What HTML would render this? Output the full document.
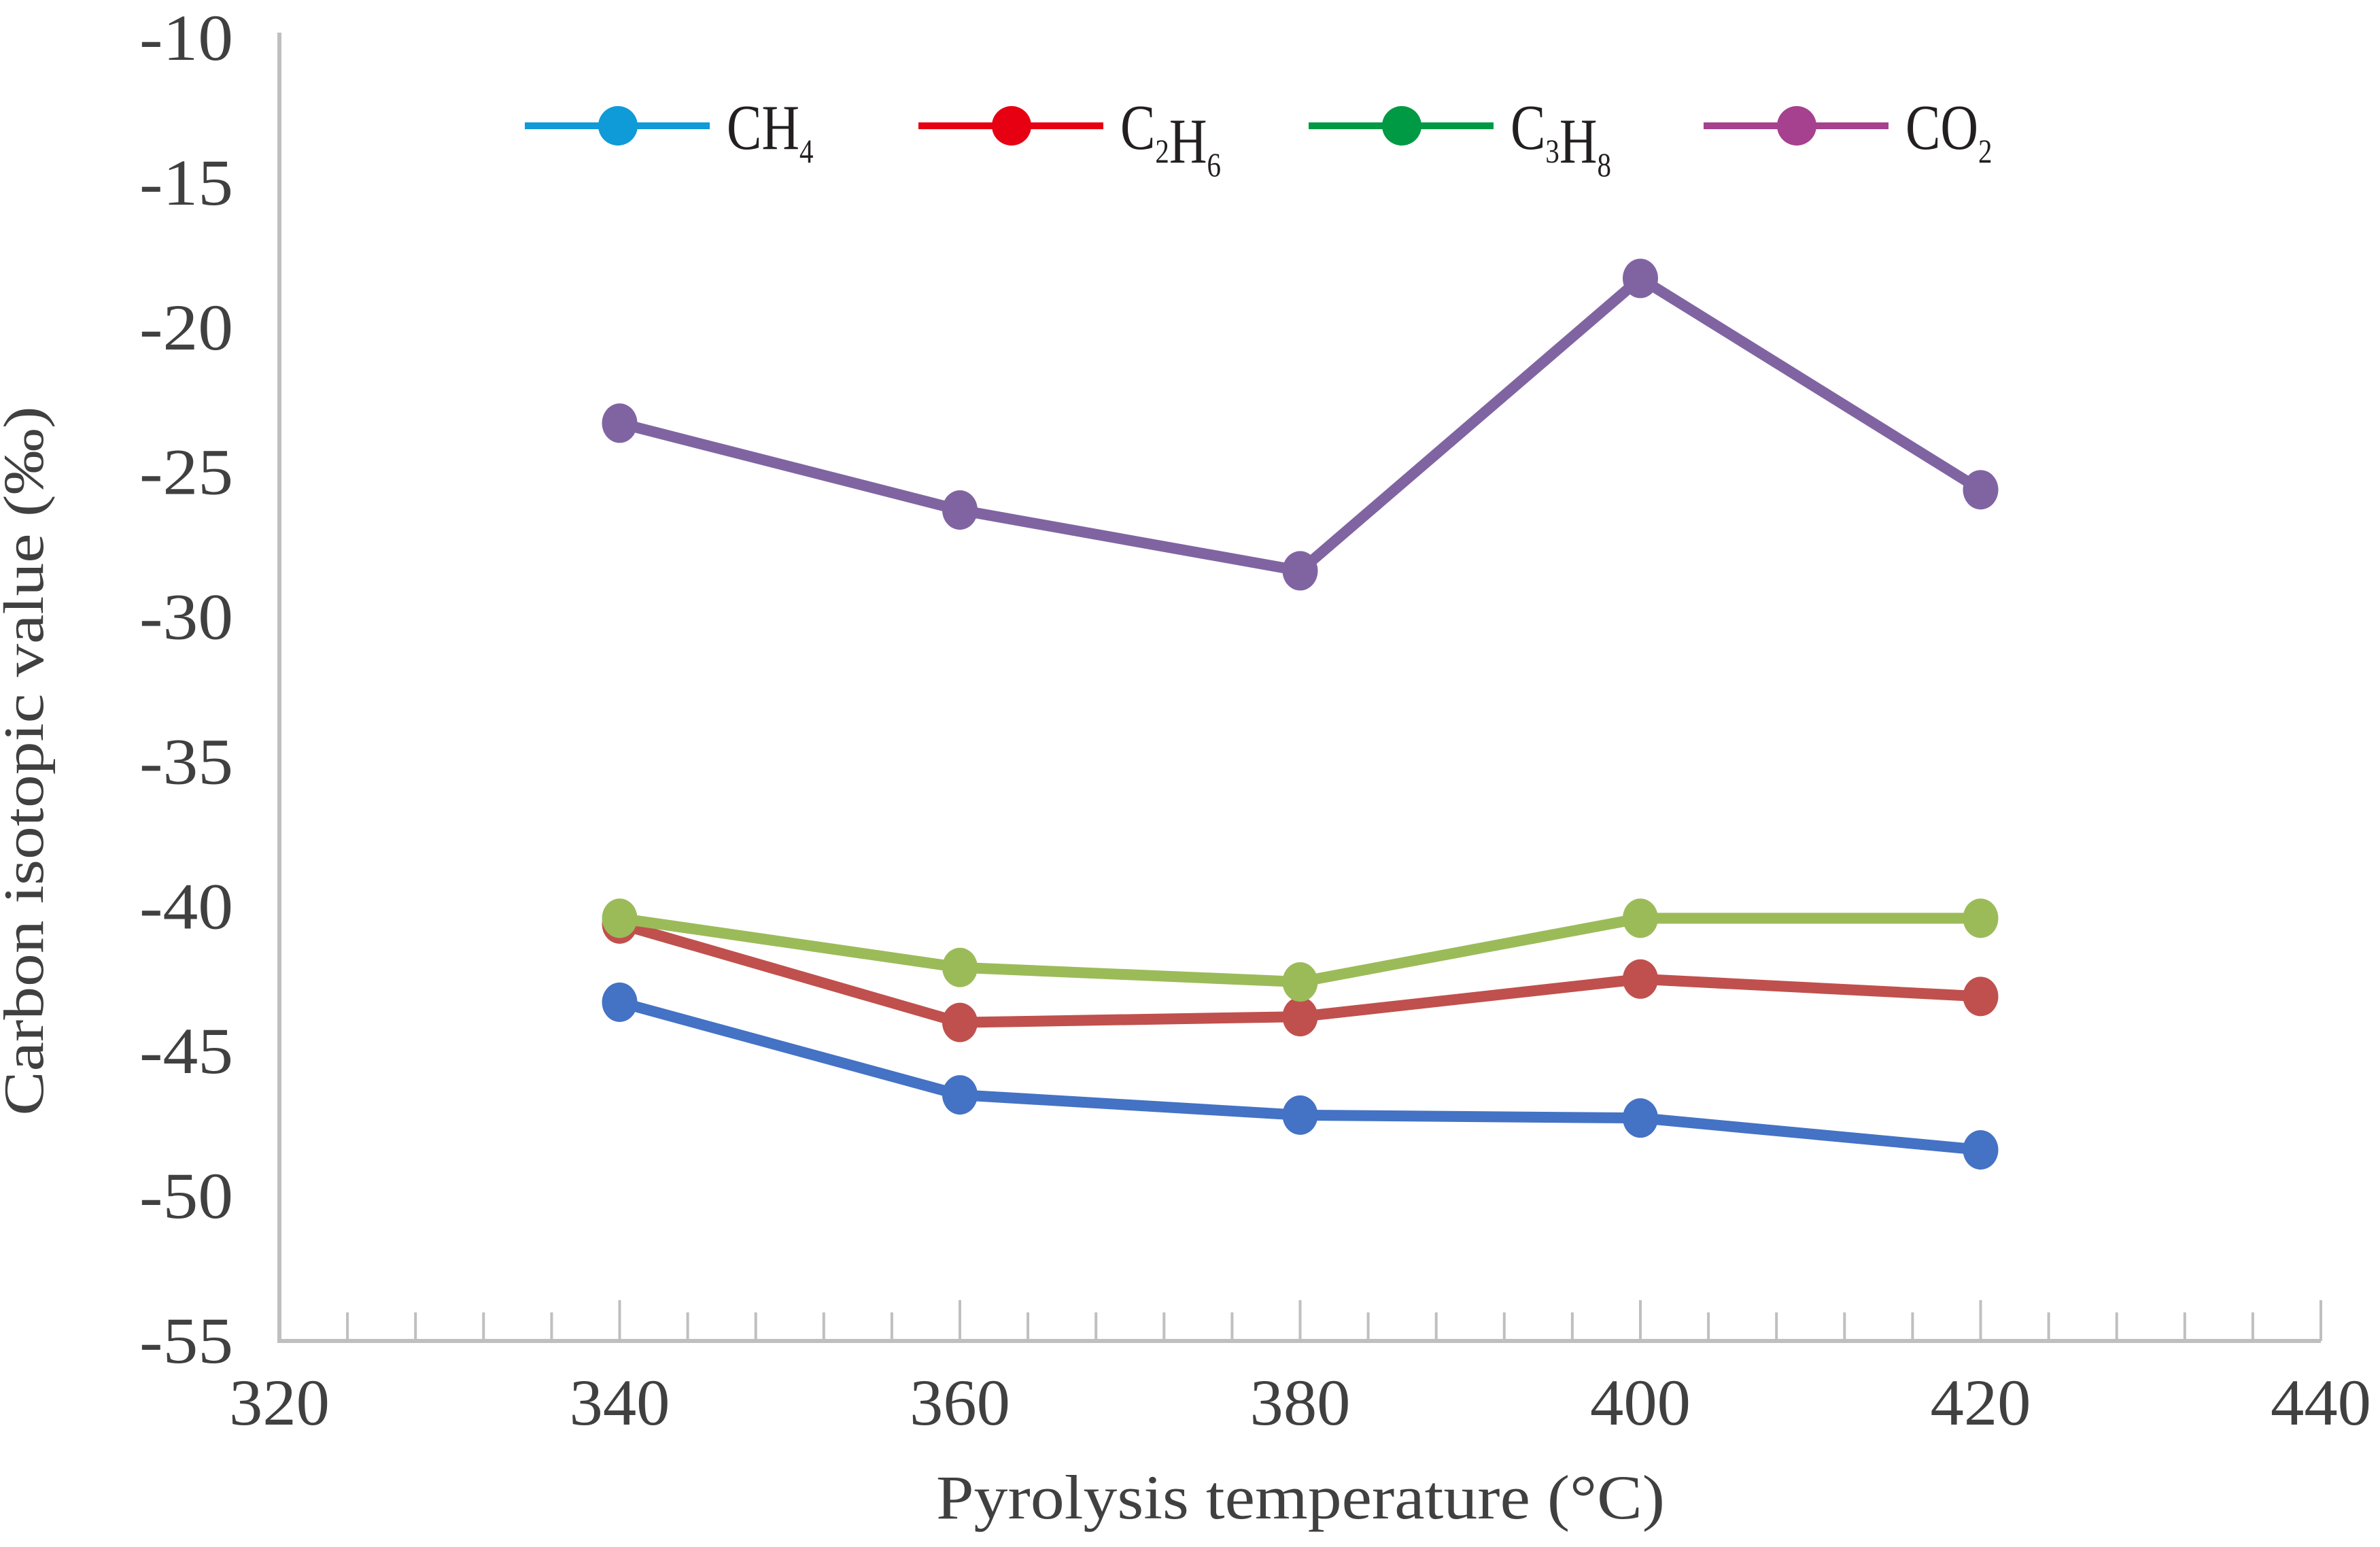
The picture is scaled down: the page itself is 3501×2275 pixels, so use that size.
<!DOCTYPE html>
<html><head><meta charset="utf-8"><style>
html,body{margin:0;padding:0;background:#fff}
svg{display:block}
text{font-family:"Liberation Serif",serif}
</style></head><body>
<svg id="chart" width="3501" height="2275" viewBox="0 0 3501 2275">
<rect width="3501" height="2275" fill="#fff"/>
<g id="axes"></g>
<g id="series"></g>
<g id="legend"></g>
<text x="63" y="1119" text-anchor="middle" font-size="84" fill="#404040" transform="rotate(-90 63 1119)" textLength="1043" lengthAdjust="spacingAndGlyphs">Carbon isotopic value (‰)</text>
<text x="1913" y="2233" text-anchor="middle" font-size="92" fill="#404040" textLength="1072" lengthAdjust="spacingAndGlyphs">Pyrolysis temperature (°C)</text>
</svg>
<script>
const temps = [340, 360, 380, 400, 420];
const ch4 = [-43.3, -46.5, -47.2, -47.3, -48.4];
const c2h6 = [-40.6, -44.0, -43.8, -42.5, -43.1];
const c3h8 = [-40.4, -42.1, -42.6, -40.4, -40.4];
const co2 = [-23.3, -26.3, -28.4, -18.3, -25.6];
const xTicks = [320, 340, 360, 380, 400, 420, 440];
const yTicks = [-10, -15, -20, -25, -30, -35, -40, -45, -50, -55];

const NS = "http://www.w3.org/2000/svg";
const X0 = 411, X1 = 3414, Y0 = 1972, Y1 = 56;
function xs(v){ return X0 + (v - 320) / 120 * (X1 - X0); }
function ys(v){ return Y0 + (v + 55) / 45 * (Y1 - Y0); }
function mk(tag, attrs, parent){
  const e = document.createElementNS(NS, tag);
  for (const k in attrs) e.setAttribute(k, attrs[k]);
  parent.appendChild(e);
  return e;
}
const axes = document.getElementById('axes');
let l = mk('line', {x1:X0, y1:Y1-8, x2:X0, y2:Y0, stroke:'#bfbfbf', 'stroke-width':6}, axes);


l = mk('line', {x1:X0-3, y1:Y0, x2:X1, y2:Y0, stroke:'#bfbfbf', 'stroke-width':6}, axes);


for (let v = 324; v <= 440; v += 4) {
  const major = (v % 20 === 0);
  const t = mk('line', {x1:xs(v), y1:Y0, x2:xs(v), y2:Y0 - (major ? 60 : 42), stroke:'#bfbfbf', 'stroke-width':4}, axes);
  
  
}
xTicks.forEach(v => {
  const t = mk('text', {x:xs(v), y:2095, 'text-anchor':'middle', 'font-size':96, fill:'#404040', textLength:148, lengthAdjust:'spacingAndGlyphs'}, axes);
  t.textContent = v;
  
  
});
yTicks.forEach(v => {
  const t = mk('text', {x:343, y:ys(v) + 32, 'text-anchor':'end', 'font-size':96, fill:'#404040', textLength:138, lengthAdjust:'spacingAndGlyphs'}, axes);
  t.textContent = v;
  
  
});

const series = document.getElementById('series');
const defs = [
  {name:'co2', data:co2, color:'#8064a2'},
  {name:'ch4', data:ch4, color:'#4472c4'},
  {name:'c2h6', data:c2h6, color:'#c0504d'},
  {name:'c3h8', data:c3h8, color:'#9bbb59'}
];
defs.forEach(s => {
  const g = mk('g', {}, series);
  
  
  const pts = temps.map((t, i) => xs(t) + ',' + ys(s.data[i])).join(' ');
  const pl = mk('polyline', {points:pts, fill:'none', stroke:s.color, 'stroke-width':16, 'stroke-linejoin':'round'}, g);
  
  
  temps.forEach((t, i) => {
    const c = mk('ellipse', {cx:xs(t), cy:ys(s.data[i]), rx:26, ry:29, fill:s.color}, g);
    
    
  });
});

const legend = document.getElementById('legend');
const legItems = [
  {x:772, color:'#0f9ad8', main:['C','H'], subs:['', '4'], name:'ch4'},
  {x:1351, color:'#e60012', main:['C','H'], subs:['2','6'], name:'c2h6'},
  {x:1925, color:'#009944', main:['C','H'], subs:['3','8'], name:'c3h8'},
  {x:2506, color:'#a5418f', main:['C','O'], subs:['', '2'], name:'co2'}
];
const LY = 185;
legItems.forEach(it => {
  const g = mk('g', {}, legend);
  
  
  mk('line', {x1:it.x, y1:LY, x2:it.x + 272, y2:LY, stroke:it.color, 'stroke-width':10}, g);
  mk('ellipse', {cx:it.x + 137, cy:LY, rx:29, ry:29, fill:it.color}, g);
  const t = mk('text', {x:it.x + 297, y:LY + 34, 'font-size':94, fill:'#231f20'}, g);
  let html = '';
  it.main.forEach((m, i) => {
    html += '<tspan dy="0">' + m + '</tspan>';
    if (it.subs[i]) html += '<tspan font-size="50" dy="20">' + it.subs[i] + '</tspan><tspan dy="-20"></tspan>';
  });
  t.innerHTML = html;
  t.setAttribute('transform', 'translate(' + (it.x + 297) + ' 0) scale(0.82 1) translate(' + (-(it.x + 297)) + ' 0)');
});
</script>
</body></html>
